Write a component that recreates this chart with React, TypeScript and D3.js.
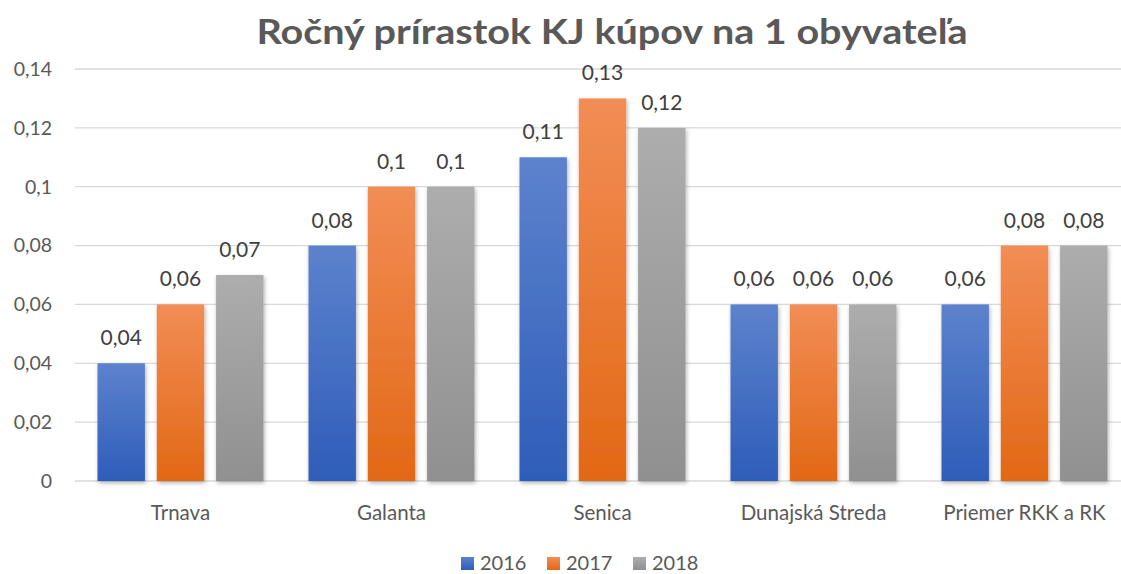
import * as d3 from "d3";

const categories = ["Trnava", "Galanta", "Senica", "Dunajská Streda", "Priemer RKK a RK"];
const seriesNames = ["2016", "2017", "2018"];
const values2016 = [0.04, 0.08, 0.11, 0.06, 0.06];
const values2017 = [0.06, 0.1, 0.13, 0.06, 0.08];
const values2018 = [0.07, 0.1, 0.12, 0.06, 0.08];
const yTicks = [0, 0.02, 0.04, 0.06, 0.08, 0.1, 0.12, 0.14];

const W = 1121;
const H = 574;
const FONT = "Lato, 'Open Sans', sans-serif";

// gradient stops per series: [top, bottom]
const gradients = [
  ["#5d82cd", "#2e5db9"],
  ["#f28d55", "#e26815"],
  ["#adadad", "#909090"],
];

const fmt = (v: number) => String(+v.toFixed(2)).replace(".", ",");

export default function App() {
  const series = [values2016, values2017, values2018];

  const x = d3.scaleBand<string>().domain(categories).range([75, 1130]).paddingInner(0).paddingOuter(0);
  const inner = d3
    .scaleBand<string>()
    .domain(seriesNames)
    .range([22.5, x.bandwidth() - 22.5])
    .paddingInner(0.2);
  const y = d3.scaleLinear().domain([0, 0.14]).range([481, 69]);

  return (
    <svg width={W} height={H} style={{ position: "absolute", left: 0, top: 0, background: "#fff" }}>
      <defs>
        {gradients.map((g, i) => (
          <linearGradient key={i} id={`grad${i}`} x1="0" y1="0" x2="0" y2="1">
            <stop offset="0%" stopColor={g[0]} />
            <stop offset="100%" stopColor={g[1]} />
          </linearGradient>
        ))}
        <filter id="shadow" x="-20%" y="-10%" width="140%" height="120%">
          <feDropShadow dx="1" dy="2" stdDeviation="2" floodColor="#000" floodOpacity="0.3" />
        </filter>
      </defs>
      <rect width={W} height={H} fill="#fff" />

      <text
        x={612}
        y={44}
        textAnchor="middle"
        fontFamily={FONT}
        fontWeight="bold"
        fontSize={34}
        fill="#595959"
        textLength={711}
        lengthAdjust="spacingAndGlyphs"
      >
        Ročný prírastok KJ kúpov na 1 obyvateľa
      </text>

      {yTicks.map((t) => (
        <g key={t}>
          <line x1={75} x2={W} y1={y(t)} y2={y(t)} stroke="#d9d9d9" strokeWidth={1.3} />
          <text
            x={52}
            y={y(t)}
            dy="0.35em"
            textAnchor="end"
            fontFamily={FONT}
            fontSize={19.5}
            fill="#595959"
          >
            {fmt(t)}
          </text>
        </g>
      ))}

      {categories.map((c, ci) => (
        <g key={c} transform={`translate(${x(c)},0)`}>
          {series.map((vals, si) => {
            const bx = inner(seriesNames[si])!;
            const v = vals[ci];
            return (
              <g key={si}>
                <rect
                  x={bx}
                  y={y(v)}
                  width={inner.bandwidth()}
                  height={y(0) - y(v)}
                  fill={`url(#grad${si})`}
                  filter="url(#shadow)"
                />
                <text
                  x={bx + inner.bandwidth() / 2}
                  y={y(v) - 18}
                  textAnchor="middle"
                  fontFamily={FONT}
                  fontSize={21}
                  fill="#404040"
                >
                  {fmt(v)}
                </text>
              </g>
            );
          })}
          <text
            x={x.bandwidth() / 2}
            y={520}
            textAnchor="middle"
            fontFamily={FONT}
            fontSize={20.5}
            fill="#595959"
          >
            {c}
          </text>
        </g>
      ))}

      {seriesNames.map((s, i) => {
        const lx = [461, 547, 633][i];
        return (
          <g key={s}>
            <rect x={lx} y={557} width={13} height={13} fill={`url(#grad${i})`} />
            <text x={lx + 19} y={570} fontFamily={FONT} fontSize={20} fill="#595959">
              {s}
            </text>
          </g>
        );
      })}
    </svg>
  );
}
